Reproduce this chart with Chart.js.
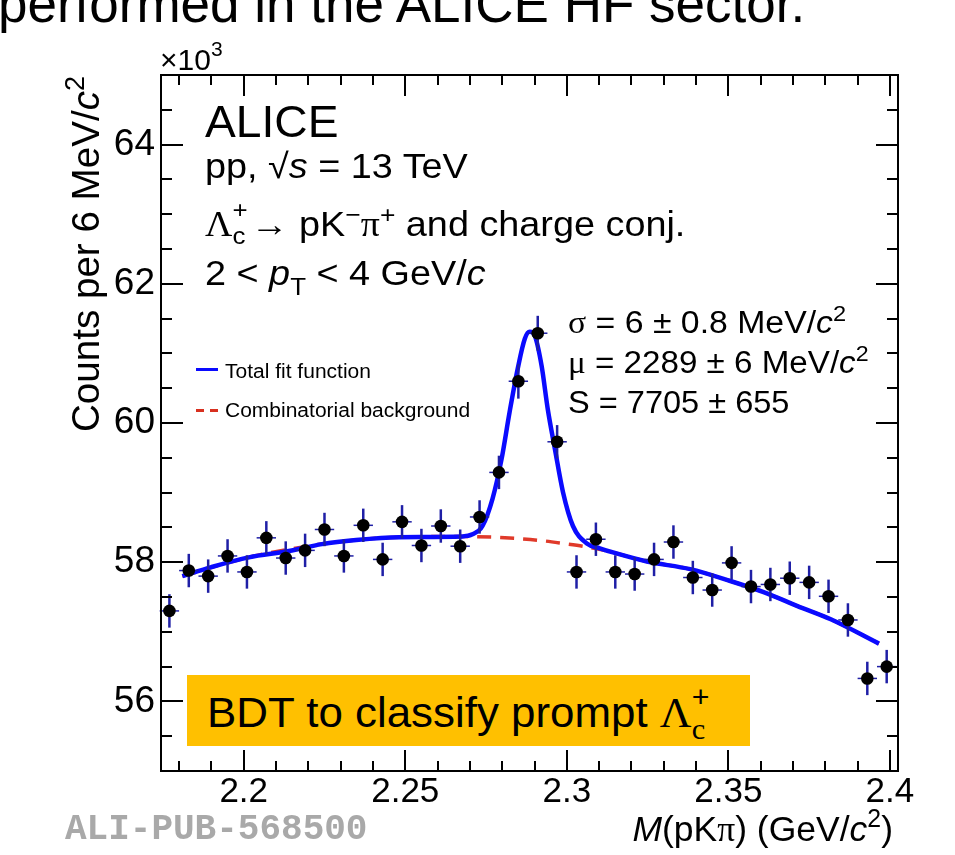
<!DOCTYPE html>
<html><head><meta charset="utf-8">
<script src="https://cdn.jsdelivr.net/npm/chart.js@4/dist/chart.umd.min.js"></script>
<style>
html,body{margin:0;padding:0;background:#fff;width:955px;height:855px;overflow:hidden;}
#wrap{position:relative;width:955px;height:855px;}
#c{position:absolute;left:0;top:0;}
.t{position:absolute;white-space:nowrap;font-family:"Liberation Sans",Arial,sans-serif;color:#000;line-height:1;transform-origin:0 0;}
.g{font-family:"Liberation Serif","DejaVu Serif",serif;}
.i{font-style:italic;}
.sup{font-size:0.7em;position:relative;top:-0.55em;}
.sub{font-size:0.7em;position:relative;top:0.3em;}
.st{display:inline-block;position:relative;height:0;}
.st span{position:absolute;left:0;line-height:1;}
</style></head>
<body><div id="wrap"><canvas id="c" width="955" height="855"></canvas></div>
<script>
// ---- data (counts in units of 10^3 per 6 MeV/c^2) ----
const massBins = [2.177, 2.183, 2.189, 2.195, 2.201, 2.207, 2.213, 2.219, 2.225, 2.231,
  2.237, 2.243, 2.249, 2.255, 2.261, 2.267, 2.273, 2.279, 2.285, 2.291,
  2.297, 2.303, 2.309, 2.315, 2.321, 2.327, 2.333, 2.339, 2.345, 2.351,
  2.357, 2.363, 2.369, 2.375, 2.381, 2.387, 2.393, 2.399];
const counts = [57.30, 57.88, 57.80, 58.09, 57.86, 58.35, 58.06, 58.17, 58.47, 58.09,
  58.53, 58.04, 58.58, 58.24, 58.52, 58.23, 58.65, 59.29, 60.60, 61.29,
  59.73, 57.86, 58.33, 57.86, 57.83, 58.04, 58.29, 57.78, 57.60, 57.99,
  57.65, 57.68, 57.77, 57.71, 57.51, 57.17, 56.33, 56.50];
const countErrors = [0.24, 0.24, 0.24, 0.24, 0.24, 0.24, 0.24, 0.24, 0.24, 0.24,
  0.24, 0.24, 0.24, 0.24, 0.24, 0.24, 0.24, 0.24, 0.25, 0.25,
  0.24, 0.24, 0.24, 0.24, 0.24, 0.24, 0.24, 0.24, 0.24, 0.24,
  0.24, 0.24, 0.24, 0.24, 0.24, 0.24, 0.24, 0.24];
const binHalfWidth = [0.003];
const fitMass = [2.181, 2.190, 2.2016, 2.214, 2.2242, 2.2348, 2.2481, 2.2677, 2.2708, 2.2739,
  2.277, 2.2798, 2.2823, 2.2848, 2.287, 2.2885, 2.2901, 2.2922, 2.2941, 2.2963,
  2.2988, 2.3019, 2.3062, 2.3102, 2.3143, 2.3248, 2.3382, 2.3506, 2.3609, 2.3714,
  2.3817, 2.3966];
const fitValues = [57.80, 57.93, 58.07, 58.16, 58.26, 58.32, 58.36, 58.37, 58.40, 58.52,
  58.91, 59.48, 60.16, 60.78, 61.21, 61.31, 61.25, 60.82, 60.20, 59.63,
  59.01, 58.52, 58.27, 58.20, 58.14, 58.01, 57.90, 57.73, 57.57, 57.37,
  57.18, 56.83];
const bgMass = [2.181, 2.2016, 2.2242, 2.2481, 2.2677, 2.277, 2.2848, 2.2922, 2.2988, 2.3062,
  2.3143, 2.3248, 2.3382, 2.3506, 2.3609, 2.3714, 2.3817, 2.3966];
const bgValues = [57.80, 58.07, 58.26, 58.36, 58.37, 58.36, 58.34, 58.31, 58.27, 58.22,
  58.14, 58.01, 57.90, 57.73, 57.57, 57.37, 57.18, 56.83];
const xTicks = [2.2, 2.25, 2.3, 2.35, 2.4];
const xTickLabels = ['2.2', '2.25', '2.3', '2.35', '2.4'];
const yTicks = [56, 58, 60, 62, 64];
const yTickLabels = ['56', '58', '60', '62', '64'];
const xRange = [2.1744, 2.4025];
const yRange = [55, 65];

const FONT = '"Liberation Sans", Arial, sans-serif';

const errorBars = {
  id: 'errorBars',
  beforeDatasetDraw(chart, args) {
    if (args.index !== 2) return;
    const {ctx, scales: {x, y}} = chart;
    ctx.save();
    ctx.strokeStyle = '#1f1fa6';
    massBins.forEach((m, i) => {
      const px = x.getPixelForValue(m), py = y.getPixelForValue(counts[i]);
      ctx.lineWidth = 2.5;
      ctx.beginPath();
      ctx.moveTo(px, y.getPixelForValue(counts[i] + countErrors[i]));
      ctx.lineTo(px, y.getPixelForValue(counts[i] - countErrors[i]));
      ctx.stroke();
      ctx.lineWidth = 1.5;
      ctx.beginPath();
      ctx.moveTo(x.getPixelForValue(m - binHalfWidth[0]), py);
      ctx.lineTo(x.getPixelForValue(m + binHalfWidth[0]), py);
      ctx.stroke();
    });
    ctx.restore();
  }
};

const frame = {
  id: 'frame',
  afterDraw(chart) {
    const {ctx, chartArea: a, scales: {x, y}} = chart;
    ctx.save();
    ctx.strokeStyle = '#000';
    ctx.lineWidth = 2;
    ctx.strokeRect(a.left, a.top, a.right - a.left, a.bottom - a.top);
    ctx.beginPath();
    for (let k = 218; k <= 240; k++) {
      const px = Math.round(x.getPixelForValue(k / 100));
      const len = (k % 5 === 0) ? 21 : 10;
      ctx.moveTo(px, a.bottom); ctx.lineTo(px, a.bottom - len);
      ctx.moveTo(px, a.top); ctx.lineTo(px, a.top + len);
    }
    for (let k = 111; k <= 129; k++) {
      const py = Math.round(y.getPixelForValue(k / 2));
      const len = (k % 4 === 0) ? 22 : 11;
      ctx.moveTo(a.left, py); ctx.lineTo(a.left + len, py);
      ctx.moveTo(a.right, py); ctx.lineTo(a.right - len, py);
    }
    ctx.stroke();
    ctx.restore();
  }
};

new Chart(document.getElementById('c'), {
  type: 'scatter',
  data: {
    datasets: [
      { type: 'line', label: 'Combinatorial background',
        data: bgMass.map((m, i) => ({x: m, y: bgValues[i]})),
        borderColor: '#e03a2a', borderWidth: 3.5, borderDash: [14, 9],
        pointRadius: 0, cubicInterpolationMode: 'monotone', fill: false, order: 3 },
      { type: 'line', label: 'Total fit function',
        data: fitMass.map((m, i) => ({x: m, y: fitValues[i]})),
        borderColor: '#0a0aff', borderWidth: 4.5,
        pointRadius: 0, cubicInterpolationMode: 'monotone', fill: false, order: 2 },
      { type: 'scatter', label: 'Data',
        data: massBins.map((m, i) => ({x: m, y: counts[i]})),
        backgroundColor: '#000', borderWidth: 0, pointRadius: 6.3, order: 1 }
    ]
  },
  options: {
    responsive: false, animation: false,
    layout: { padding: { top: 75, right: 57, left: 0, bottom: 0 } },
    plugins: { legend: { display: false }, tooltip: { enabled: false } },
    scales: {
      x: {
        type: 'linear', min: xRange[0], max: xRange[1],
        grid: { display: false }, border: { display: false },
        afterBuildTicks: s => { s.ticks = xTicks.map(v => ({value: v})); },
        afterFit: s => { s.height = 84; },
        ticks: { color: '#000', font: { family: FONT, size: 35 }, padding: -8,
          maxRotation: 0, autoSkip: false,
          callback: (v) => { const i = xTicks.findIndex(t => Math.abs(t - v) < 1e-9); return i >= 0 ? xTickLabels[i] : ''; } }
      },
      y: {
        type: 'linear', min: yRange[0], max: yRange[1],
        grid: { display: false }, border: { display: false },
        afterBuildTicks: s => { s.ticks = yTicks.map(v => ({value: v})); },
        afterFit: s => { s.width = 161; },
        ticks: { color: '#000', font: { family: FONT, size: 37 }, padding: -2, autoSkip: false,
          callback: (v) => { const i = yTicks.findIndex(t => Math.abs(t - v) < 1e-9); return i >= 0 ? yTickLabels[i] : ''; } }
      }
    }
  },
  plugins: [errorBars, frame]
});

// ---- text overlays ----
const wrap = document.getElementById('wrap');
function T(html, x, base, fs, opts = {}) {
  const d = document.createElement('div');
  d.className = 't';
  d.innerHTML = html;
  d.style.fontSize = fs + 'px';
  d.style.top = (base - 0.8465 * fs) + 'px';
  if (opts.right !== undefined) { d.style.right = opts.right + 'px'; d.style.transformOrigin = '100% 0'; }
  else d.style.left = x + 'px';
  if (opts.sx) d.style.transform = 'scaleX(' + opts.sx + ')';
  if (opts.style) Object.assign(d.style, opts.style);
  wrap.appendChild(d);
  return d;
}
function stack(sup, sub, fsChild, supTop, subTop, w) {
  return `<span class="st" style="width:${w}px"><span style="font-size:${fsChild}px;top:${supTop}px">${sup}</span><span style="font-size:${fsChild}px;top:${subTop}px">${sub}</span></span>`;
}
function box(x, y, w, h, color) {
  const d = document.createElement('div');
  Object.assign(d.style, {position: 'absolute', left: x + 'px', top: y + 'px', width: w + 'px', height: h + 'px', background: color});
  wrap.appendChild(d);
  return d;
}

T('performed in the ALICE HF sector.', -2, 22, 53);
T('×10<span style="font-size:21px;position:relative;top:-14px">3</span>', 160, 70, 30);

// y title (rotated)
const yt = T('Counts per 6 MeV/<span class="i">c</span><span class="sup">2</span>', 0, 0, 38.6);
Object.assign(yt.style, {left: (100 - 0.8465 * 38.6) + 'px', top: '432px', transformOrigin: '0 0', transform: 'rotate(-90deg)'});

T('ALICE', 205, 137, 44, {sx: 1.05});
T('pp, √<span class="i">s</span> = 13 TeV', 205, 178, 35, {sx: 1.08});
T('<span class="g">Λ</span>' + stack('+', 'c', 24, -38, -12, 17) + '→ pK<span class="sup">−</span><span class="g">π</span><span class="sup">+</span> and charge conj.', 205, 236, 35, {sx: 1.08});
T('2 &lt; <span class="i">p</span><span style="font-size:24px;position:relative;top:10px">T</span> &lt; 4 GeV/<span class="i">c</span>', 205, 285, 35, {sx: 1.08});

// legend
box(196, 368, 22, 3, '#0a0aff');
T('Total fit function', 225, 378, 20, {sx: 1.05});
box(196, 409, 8, 2.5, '#d8301f');
box(210, 409, 8, 2.5, '#d8301f');
T('Combinatorial background', 225, 417, 20, {sx: 1.05});

T('<span class="g">σ</span> = 6 ± 0.8 MeV/<span class="i">c</span><span class="sup">2</span>', 568, 333, 31, {sx: 1.09});
T('<span class="g">μ</span> = 2289 ± 6 MeV/<span class="i">c</span><span class="sup">2</span>', 568, 373, 31, {sx: 1.07});
T('S = 7705 ± 655', 568, 413, 31, {sx: 1.05});

T('<span class="i">M</span>(pK<span class="g">π</span>) (GeV/<span class="i">c</span><span class="sup">2</span>)', 0, 842, 35.5, {right: 62});
T('ALI-PUB-568500', 65, 842, 36, {style: {fontFamily: '"Liberation Mono", "DejaVu Sans Mono", monospace', fontWeight: 'bold', color: '#a9a9a9'}});

box(187, 675, 563, 71, '#FFC000');
T('BDT to classify prompt <span class="g">Λ</span>' + stack('+', '<span class="g">c</span>', 29, -44, -12, 20), 207, 728, 42, {sx: 1.045});
</script>
</body></html>
